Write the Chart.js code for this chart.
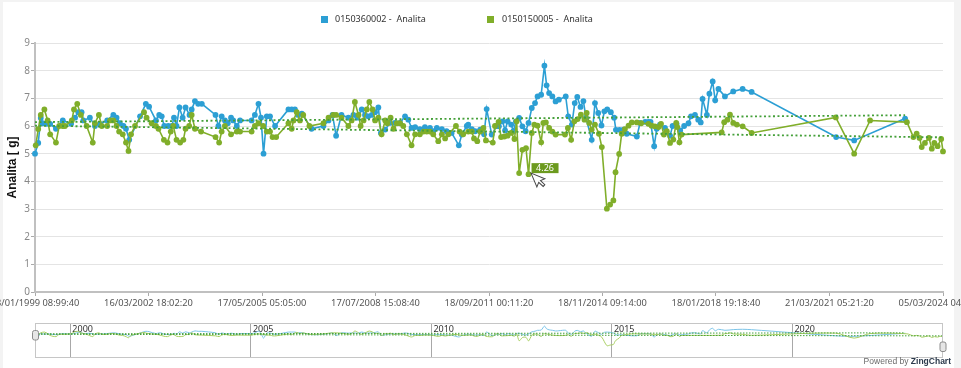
<!DOCTYPE html>
<html><head><meta charset="utf-8">
<script src="https://cdn.jsdelivr.net/npm/chart.js@4.4.1/dist/chart.umd.min.js"></script>
<style>
html,body{margin:0;padding:0;background:#f3f3f3;width:961px;height:368px;overflow:hidden}
#frame{position:absolute;left:3px;top:2px;width:951px;height:366px;background:#fff}
#main{position:absolute;left:0;top:0}
#prev{position:absolute;left:0;top:318px}
</style></head><body>
<div id="frame"></div>
<canvas id="main" width="961" height="318"></canvas>
<canvas id="prev" width="961" height="50"></canvas>
<script>
// ---------- DATA ----------
const seriesNames = ['0150360002 -  Analita', '0150150005 -  Analita'];
const yAxisTitle = 'Analita [ g]';
const xTickLabels = ['13/01/1999 08:99:40','16/03/2002 18:02:20','17/05/2005 05:05:00','17/07/2008 15:08:40',
  '18/09/2011 00:11:20','18/11/2014 09:14:00','18/01/2018 19:18:40','21/03/2021 05:21:20','05/03/2024 04:24:00'];
const previewYears = [2000, 2005, 2010, 2015, 2020];
const xMin = 1999.03, xMax = 2024.18;   // decimal years
const yMin = 0, yMax = 9;

// [decimal year, value]
const blueSeries = [
[1999.03,5.00],[1999.12,5.39],[1999.19,6.29],[1999.24,6.10],[1999.35,6.08],[1999.45,6.08],[1999.61,5.90],[1999.80,6.20],
[2000.03,6.08],[2000.14,6.30],[2000.23,6.50],[2000.32,6.50],[2000.37,6.20],[2000.55,6.30],[2000.69,6.00],[2000.83,6.08],
[2001.03,6.20],[2001.20,6.40],[2001.29,6.30],[2001.38,6.10],[2001.48,6.00],[2001.55,5.90],[2001.64,5.50],[2001.94,6.35],
[2002.10,6.80],[2002.19,6.70],[2002.38,6.20],[2002.47,6.40],[2002.54,6.35],[2002.61,6.00],[2002.72,6.00],[2002.82,6.00],[2002.88,6.30],[2002.95,6.00],
[2003.03,6.67],[2003.12,6.30],[2003.20,6.67],[2003.31,6.40],[2003.37,6.60],[2003.46,6.90],[2003.55,6.80],[2003.65,6.80],
[2004.03,6.40],[2004.11,6.00],[2004.20,6.35],[2004.29,6.20],[2004.37,6.10],[2004.46,6.30],[2004.52,6.20],[2004.62,6.00],[2004.71,6.20],
[2005.03,6.20],[2005.12,6.40],[2005.22,6.80],[2005.29,6.30],[2005.36,5.00],[2005.45,6.35],[2005.54,6.35],[2005.68,6.00],
[2006.05,6.60],[2006.14,6.60],[2006.23,6.60],[2006.32,6.40],[2006.42,6.45],[2006.69,5.90],
[2007.02,6.00],[2007.16,6.20],[2007.27,6.40],[2007.37,5.65],[2007.52,6.40],[2007.71,6.30],[2007.85,6.40],[2007.96,6.30],
[2008.08,6.60],[2008.17,6.40],[2008.26,6.35],[2008.36,6.40],[2008.45,6.50],[2008.54,6.67],[2008.61,5.75],[2008.73,5.87],[2008.86,6.11],
[2009.00,6.11],[2009.14,6.11],[2009.28,6.35],[2009.37,6.23],[2009.46,5.93],[2009.56,5.96],[2009.69,5.89],[2009.83,5.96],[2009.97,5.93],
[2010.06,5.81],[2010.16,5.93],[2010.30,5.89],[2010.43,5.81],[2010.57,5.75],[2010.77,5.30],[2010.85,5.69],[2010.99,6.00],
[2011.03,6.05],[2011.13,5.89],[2011.22,5.81],[2011.36,5.87],[2011.47,5.70],[2011.54,6.61],[2011.68,5.69],[2011.82,6.00],[2011.88,5.99],[2011.98,6.17],
[2012.05,5.84],[2012.12,6.17],[2012.22,6.05],[2012.28,5.81],[2012.35,6.17],[2012.44,6.29],[2012.53,5.99],[2012.62,5.81],[2012.70,6.11],[2012.79,6.65],[2012.88,6.83],[2012.95,7.07],
[2013.05,7.13],[2013.14,8.18],[2013.20,7.47],[2013.27,7.19],[2013.36,7.07],[2013.45,6.89],[2013.54,6.95],[2013.73,7.07],[2013.80,6.35],[2013.90,6.05],[2013.98,6.83],
[2014.05,7.05],[2014.14,6.69],[2014.22,6.90],[2014.29,6.30],[2014.45,5.50],[2014.54,6.83],[2014.63,6.47],[2014.72,6.02],[2014.80,6.53],[2014.88,6.60],[2014.98,6.50],
[2015.07,6.30],[2015.12,5.86],[2015.22,5.86],[2015.33,5.87],[2015.42,5.72],[2015.70,5.62],[2015.79,6.11],[2015.93,6.15],
[2016.02,6.15],[2016.08,6.15],[2016.18,5.27],[2016.25,5.90],[2016.34,6.05],[2016.48,5.93],[2016.62,5.65],[2016.69,6.00],[2016.80,6.08],[2016.90,5.84],
[2017.01,6.00],[2017.13,6.10],[2017.20,6.35],[2017.31,6.40],[2017.40,6.23],[2017.47,6.13],[2017.52,6.98],[2017.64,6.40],[2017.71,7.17],[2017.80,7.61],[2017.87,6.93],[2017.96,7.34],
[2018.14,7.07],[2018.37,7.25],[2018.63,7.34],[2018.88,7.23],
[2021.22,5.60],[2021.72,5.48],[2023.13,6.27]
];

const greenSeries = [
[1999.05,5.30],[1999.12,5.89],[1999.19,6.40],[1999.29,6.60],[1999.38,6.20],[1999.45,5.70],[1999.61,5.40],[1999.70,6.00],[1999.80,6.00],[1999.86,6.00],
[2000.05,6.20],[2000.11,6.60],[2000.20,6.80],[2000.30,6.40],[2000.46,6.00],[2000.63,5.40],[2000.69,6.10],[2000.80,6.40],[2000.88,6.00],
[2001.03,6.00],[2001.11,6.20],[2001.20,6.20],[2001.29,6.00],[2001.36,5.80],[2001.46,5.70],[2001.55,5.40],[2001.62,5.10],[2001.69,5.70],[2001.80,6.00],
[2002.05,6.50],[2002.12,6.30],[2002.26,6.10],[2002.38,6.00],[2002.45,5.90],[2002.60,5.50],[2002.70,5.40],[2002.79,5.80],[2002.86,6.00],[2002.95,5.50],
[2003.05,5.40],[2003.14,5.50],[2003.20,5.90],[2003.30,6.00],[2003.37,6.40],[2003.46,5.90],[2003.63,5.80],
[2004.03,5.60],[2004.13,5.40],[2004.20,5.80],[2004.29,6.00],[2004.46,5.70],[2004.62,5.80],[2004.71,5.80],
[2005.03,5.80],[2005.12,6.00],[2005.22,6.10],[2005.35,6.00],[2005.45,5.80],[2005.54,5.80],[2005.61,5.60],[2005.71,5.60],
[2006.05,6.10],[2006.14,5.90],[2006.19,6.20],[2006.28,6.50],[2006.37,6.20],[2006.46,6.40],[2006.63,6.00],
[2007.02,6.10],[2007.16,6.30],[2007.29,6.40],[2007.37,6.40],[2007.52,6.30],[2007.71,6.00],[2007.80,6.20],[2007.89,6.87],[2007.99,6.40],
[2008.05,6.00],[2008.13,6.20],[2008.22,6.60],[2008.29,6.87],[2008.38,6.60],[2008.45,6.20],[2008.54,6.30],[2008.63,5.70],[2008.73,6.20],[2008.79,6.10],[2008.88,6.30],[2008.96,5.90],
[2009.05,6.10],[2009.14,6.10],[2009.23,6.00],[2009.33,5.70],[2009.46,5.30],[2009.56,5.70],[2009.69,5.70],[2009.79,5.80],[2009.88,5.80],[2009.97,5.80],
[2010.06,5.70],[2010.20,5.45],[2010.30,5.70],[2010.39,5.55],[2010.48,5.70],[2010.69,6.00],[2010.79,5.80],[2010.89,5.70],
[2011.03,5.80],[2011.13,5.80],[2011.19,5.55],[2011.28,5.45],[2011.36,5.80],[2011.45,5.93],[2011.52,5.48],[2011.71,5.40],[2011.77,6.00],[2011.87,6.15],[2011.94,5.60],
[2012.03,5.62],[2012.12,5.65],[2012.22,5.75],[2012.31,5.53],[2012.37,6.17],[2012.44,4.30],[2012.53,5.14],[2012.63,5.20],[2012.70,4.26],[2012.79,5.75],[2012.86,6.05],[2012.95,6.01],
[2013.05,5.41],[2013.11,6.11],[2013.18,6.13],[2013.27,5.93],[2013.36,5.80],[2013.45,5.69],[2013.71,5.69],[2013.79,5.93],[2013.88,5.50],[2013.97,6.17],
[2014.06,6.25],[2014.15,6.41],[2014.25,6.23],[2014.31,6.47],[2014.38,6.11],[2014.45,5.87],[2014.54,6.05],[2014.65,5.72],[2014.73,5.24],[2014.87,3.01],[2014.96,3.16],
[2015.05,3.31],[2015.11,4.33],[2015.21,4.99],[2015.28,5.72],[2015.37,5.89],[2015.47,6.01],[2015.56,6.13],[2015.70,6.13],[2015.82,6.10],
[2016.02,6.08],[2016.11,6.01],[2016.20,5.99],[2016.30,5.96],[2016.37,6.08],[2016.45,5.69],[2016.53,5.81],[2016.62,5.39],[2016.71,5.51],[2016.79,6.11],[2016.82,5.96],[2016.88,5.41],[2016.94,5.69],
[2018.05,5.77],[2018.12,6.14],[2018.21,6.23],[2018.28,6.41],[2018.37,6.11],[2018.47,6.05],[2018.63,5.99],[2018.88,5.75],
[2021.21,6.31],[2021.72,5.00],[2022.16,6.20],[2023.18,6.14],[2023.36,5.60],[2023.45,5.72],[2023.53,5.57],[2023.59,5.24],[2023.68,5.39],
[2023.79,5.57],[2023.87,5.18],[2023.94,5.39],[2024.03,5.27],[2024.13,5.53],[2024.18,5.08]
];

const blueTrend = [[1999.03,6.14],[2023.13,6.39]];
const greenTrend = [[1999.03,6.01],[2024.18,5.59]];
const tooltipValue = 4.26;

// ---------- STYLE ----------
const BLUE = '#2c9fd4', GREEN = '#80ae2a', TREND = '#45a03a';
const BLUE_L = '#7cc4e8', GREEN_L = '#a8cf62';
const FONT = '"Noto Sans", "Open Sans", sans-serif';
const toXY = arr => arr.map(p => ({x: p[0], y: p[1]}));

const legendPlugin = {
  id: 'zcLegend',
  afterDraw(chart) {
    const ctx = chart.ctx;
    ctx.save();
    ctx.font = '9px ' + FONT;
    ctx.textBaseline = 'middle';
    ctx.textAlign = 'left';
    const items = [{c: BLUE, bx: 321, tx: 335}, {c: GREEN, bx: 487, tx: 502}];
    items.forEach((it, i) => {
      ctx.fillStyle = it.c;
      ctx.fillRect(it.bx, 16, 7, 7);
      ctx.fillStyle = '#333';
      ctx.fillText(seriesNames[i], it.tx, 19.5);
    });
    ctx.restore();
  }
};

const tipPlugin = {
  id: 'zcTip',
  afterDraw(chart) {
    const idx = greenSeries.findIndex(p => p[1] === tooltipValue);
    const el = chart.getDatasetMeta(1).data[idx];
    if (!el) return;
    const ctx = chart.ctx;
    const x = el.x, y = el.y;
    ctx.save();
    ctx.fillStyle = '#6c9a1e';
    ctx.fillRect(x + 3, y - 11, 27, 10);
    ctx.fillStyle = '#fff';
    ctx.font = '9px ' + FONT;
    ctx.textAlign = 'center';
    ctx.textBaseline = 'middle';
    ctx.fillText(tooltipValue.toFixed(2), x + 16.5, y - 5.8);
    // mouse cursor
    ctx.translate(x + 2.5, y - 1);
    ctx.rotate(-0.4);
    ctx.beginPath();
    ctx.moveTo(0, 0); ctx.lineTo(0, 15); ctx.lineTo(3.5, 11.5); ctx.lineTo(6, 17);
    ctx.lineTo(8.2, 16); ctx.lineTo(5.8, 10.6); ctx.lineTo(10.5, 10.6); ctx.closePath();
    ctx.fillStyle = '#fff'; ctx.fill();
    ctx.strokeStyle = '#444'; ctx.lineWidth = 1; ctx.stroke();
    ctx.restore();
  }
};

const pointDs = (label, data, color, order) => ({
  label, data: toXY(data), borderColor: color, backgroundColor: color,
  pointBackgroundColor: color, pointBorderWidth: 0, pointRadius: 2.9, pointHoverRadius: 2.9,
  borderWidth: 1.6, tension: 0, order, clip: 6
});
const trendDs = (label, data) => ({
  label, data: toXY(data), borderColor: TREND, borderWidth: 1.8, borderDash: [2, 2.5],
  pointRadius: 0, order: 0, clip: 6
});

new Chart(document.getElementById('main'), {
  type: 'line',
  data: {datasets: [
    pointDs(seriesNames[0], blueSeries, BLUE, 2),
    pointDs(seriesNames[1], greenSeries, GREEN, 1),
    trendDs('trend ' + seriesNames[0], blueTrend),
    trendDs('trend ' + seriesNames[1], greenTrend)
  ]},
  options: {
    responsive: false, animation: false, devicePixelRatio: 1,
    layout: {padding: {left: 0, right: 18, top: 43, bottom: 0}},
    plugins: {legend: {display: false}, tooltip: {enabled: false}},
    events: [],
    scales: {
      x: {
        type: 'linear', min: xMin, max: xMax,
        afterBuildTicks: s => { s.ticks = xTickLabels.map((_, i) => ({value: xMin + i * (xMax - xMin) / (xTickLabels.length - 1)})); },
        afterFit: s => { s.paddingLeft = 0; s.paddingRight = 0; s.height = 26; },
        ticks: {autoSkip: false, maxRotation: 0, minRotation: 0, padding: 2, color: '#555',
          font: {family: FONT, size: 9.3}, callback: (v, i) => xTickLabels[i]},
        grid: {drawOnChartArea: false, drawTicks: true, tickLength: 4, tickColor: '#aaa'},
        border: {color: '#c0c0c0', width: 2}
      },
      y: {
        min: yMin, max: yMax,
        afterFit: s => { s.width = 35; },
        ticks: {stepSize: 1, color: '#888', padding: 1, font: {family: FONT, size: 10}},
        grid: {color: '#e4e4e4', tickLength: 4, tickColor: '#aaa'},
        border: {color: '#c0c0c0', width: 2},
        title: {display: true, text: yAxisTitle, color: '#111',
          font: {family: '"Liberation Sans", Arial, sans-serif', weight: 'bold', size: 12},
          padding: {top: 5, bottom: 0}}
      }
    }
  },
  plugins: [legendPlugin, tipPlugin]
});

// ---------- preview / scroller ----------
const previewPlugin = {
  id: 'zcPreview',
  afterDraw(chart) {
    const ctx = chart.ctx, a = chart.chartArea;
    ctx.save();
    ctx.strokeStyle = '#c6c6c6'; ctx.lineWidth = 1;
    ctx.strokeRect(a.left + 0.5, a.top + 0.5, a.width - 1, a.height);
    const handle = (x, y, w, h) => {
      ctx.beginPath(); ctx.roundRect(x, y, w, h, 2);
      ctx.fillStyle = '#e6e6e6'; ctx.fill();
      ctx.strokeStyle = '#8c8c8c'; ctx.lineWidth = 1; ctx.stroke();
    };
    handle(a.left - 2.5, 12.5, 6, 9.5);
    handle(a.right - 3, 24, 6, 9.5);
    ctx.textBaseline = 'middle'; ctx.textAlign = 'right';
    ctx.font = 'bold 8.5px "Liberation Sans", Arial, sans-serif';
    ctx.fillStyle = '#2c3a4c';
    const zc = 'ZingChart';
    ctx.fillText(zc, 951, 43.5);
    const w = ctx.measureText(zc).width;
    ctx.font = '8.5px "Liberation Sans", Arial, sans-serif';
    ctx.fillStyle = '#6a6a6a';
    ctx.fillText('Powered by ', 951 - w, 43.5);
    ctx.restore();
  }
};

new Chart(document.getElementById('prev'), {
  type: 'line',
  data: {datasets: [
    {label: seriesNames[0], data: toXY(blueSeries), borderColor: BLUE_L, borderWidth: 1, pointRadius: 0, tension: 0.3, order: 2},
    {label: seriesNames[1], data: toXY(greenSeries), borderColor: GREEN_L, borderWidth: 1, pointRadius: 0, tension: 0.3, order: 1},
    {label: 'trend 1', data: toXY(blueTrend), borderColor: TREND, borderWidth: 1, borderDash: [1.5, 1.5], pointRadius: 0, order: 0},
    {label: 'trend 2', data: toXY(greenTrend), borderColor: TREND, borderWidth: 1, borderDash: [1.5, 1.5], pointRadius: 0, order: 0}
  ]},
  options: {
    responsive: false, animation: false, devicePixelRatio: 1, events: [],
    layout: {padding: {left: 35, right: 18, top: 5, bottom: 11}},
    plugins: {legend: {display: false}, tooltip: {enabled: false}},
    scales: {
      x: {
        type: 'linear', position: 'top', min: xMin, max: xMax,
        afterBuildTicks: s => { s.ticks = previewYears.map(v => ({value: v})); },
        afterFit: s => { s.height = 0; s.paddingLeft = 0; s.paddingRight = 0; },
        ticks: {autoSkip: false, maxRotation: 0, mirror: true, align: 'start', padding: 1,
          color: '#333', font: {family: FONT, size: 9}, callback: (v, i) => ' ' + previewYears[i]},
        grid: {color: '#a8a8a8', drawTicks: false, lineWidth: 1},
        border: {display: false}
      },
      y: {display: false, min: yMin, max: yMax}
    }
  },
  plugins: [previewPlugin]
});
</script>
</body></html>
